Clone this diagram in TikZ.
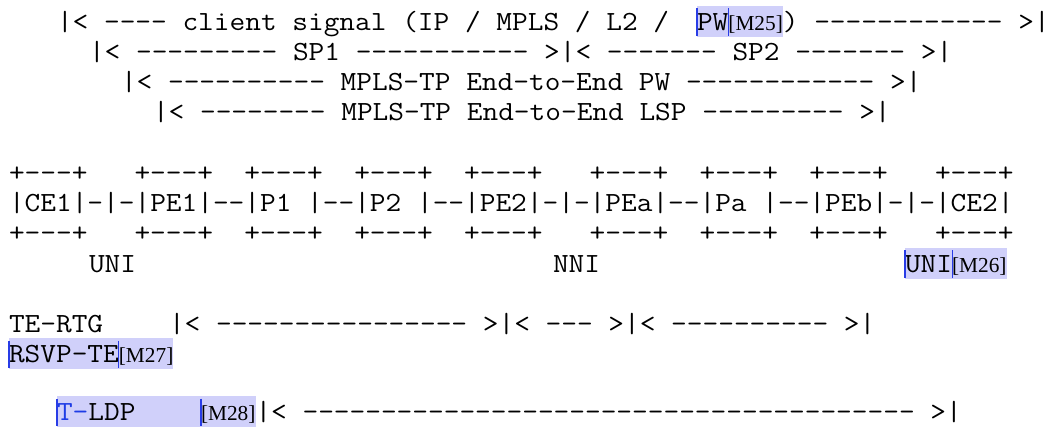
\documentclass[tikz,border=0pt]{standalone}
\usepackage{fontspec}
\setmonofont{Latin Modern Mono}[FakeStretch=1.1]
\newfontfamily\cmtfam{Liberation Serif}
\usetikzlibrary{backgrounds}
\definecolor{hlfill}{RGB}{208,208,250}
\definecolor{anchorblue}{RGB}{40,60,230}
\definecolor{insblue}{RGB}{30,60,230}
\tikzset{
  mono/.style={font=\ttfamily\fontsize{20.78pt}{22.5pt}\selectfont, text=black, inner sep=0pt, outer sep=0pt, anchor=base west},
  cmt/.style={font=\cmtfam\fontsize{16pt}{20pt}\selectfont, text=black, inner sep=0pt, outer sep=0pt, anchor=base west},
  hl/.style={fill=hlfill, draw=none},
  cmtbar/.style={draw=anchorblue, line width=0.8pt},
}
\begin{document}
\begin{tikzpicture}[x=0.75pt,y=-0.75pt]
\useasboundingbox (0,0) rectangle (1054,426);
% row 0
\node[mono] (r0a) at (57,30.2) {|< ---- client signal (IP / MPLS / L2 /};
\node[mono] (pw) at (697,30.2) {PW};
\node[cmt] (m25) at (pw.base east) {[M25]};
\node[mono] (r0b) at (m25.base east) {) ------------ >|};
% rows 1-3
\node[mono] (spline) at (89,60.45) {|< --------- SP1 ----------- >|< ------- SP2 ------- >|};
\node[mono] (pwline) at (121,90.7) {|< ---------- MPLS-TP End-to-End PW ------------ >|};
\node[mono] (lspline) at (153,120.95) {|< -------- MPLS-TP End-to-End LSP --------- >|};
% boxes
\node[mono] (boxtop) at (9,181.45) {+---+\ \ \ +---+\ \ +---+\ \ +---+\ \ +---+\ \ \ +---+\ \ +---+\ \ +---+\ \ \ +---+};
\node[mono] (boxmid) at (9,211.7) {|CE1|-|-|PE1|--|P1 |--|P2 |--|PE2|-|-|PEa|--|Pa |--|PEb|-|-|CE2|};
\node[mono] (boxbot) at (9,241.95) {+---+\ \ \ +---+\ \ +---+\ \ +---+\ \ +---+\ \ \ +---+\ \ +---+\ \ +---+\ \ \ +---+};
% interface labels
\node[mono] (uni1) at (89,272.2) {UNI};
\node[mono] (nni) at (553,272.2) {NNI};
\node[mono] (uni2) at (905,272.2) {UNI};
\node[cmt] (m26) at (uni2.base east) {[M26]};
% TE-RTG
\node[mono] (tertg) at (9,332.7) {TE-RTG};
\node[mono] (teline) at (169,332.7) {|< ---------------- >|< --- >|< ---------- >|};
\node[mono] (rsvp) at (9,362.95) {RSVP-TE};
\node[cmt] (m27) at (rsvp.base east) {[M27]};
% T-LDP
\node[mono] (tldp) at (57,420.5) {{\color{insblue}T-}LDP};
\node[cmt] (m28) at (201,420.5) {[M28]};
\node[mono] (ldpline) at (m28.base east) {|< --------------------------------------- >|};
% highlights
\begin{pgfonlayer}{background}
\fill[white] (0,0) rectangle (1054,426);
\fill[hl] ([yshift=18.4pt]pw.base west) rectangle ([yshift=-4.9pt]m25.base east);
\fill[hl] ([yshift=18.4pt]uni2.base west) rectangle ([yshift=-4.9pt]m26.base east);
\fill[hl] ([yshift=18.4pt]rsvp.base west) rectangle ([yshift=-4.9pt]m27.base east);
\fill[hl] ([yshift=18.4pt]tldp.base west) rectangle ([yshift=-4.9pt]m28.base east);
\end{pgfonlayer}
\draw[cmtbar] ([yshift=16.5pt]pw.base west) -- ([yshift=-4.1pt]pw.base west);
\draw[cmtbar] ([yshift=16.5pt]pw.base east) -- ([yshift=-4.1pt]pw.base east);
\draw[cmtbar] ([yshift=16.5pt]uni2.base west) -- ([yshift=-4.1pt]uni2.base west);
\draw[cmtbar] ([yshift=16.5pt]uni2.base east) -- ([yshift=-4.1pt]uni2.base east);
\draw[cmtbar] ([yshift=16.5pt]rsvp.base west) -- ([yshift=-4.1pt]rsvp.base west);
\draw[cmtbar] ([yshift=16.5pt]rsvp.base east) -- ([yshift=-4.1pt]rsvp.base east);
\draw[cmtbar] ([yshift=16.5pt]tldp.base west) -- ([yshift=-4.1pt]tldp.base west);
\draw[cmtbar] ([yshift=16.5pt]m28.base west) -- ([yshift=-4.1pt]m28.base west);
\end{tikzpicture}
\end{document}
